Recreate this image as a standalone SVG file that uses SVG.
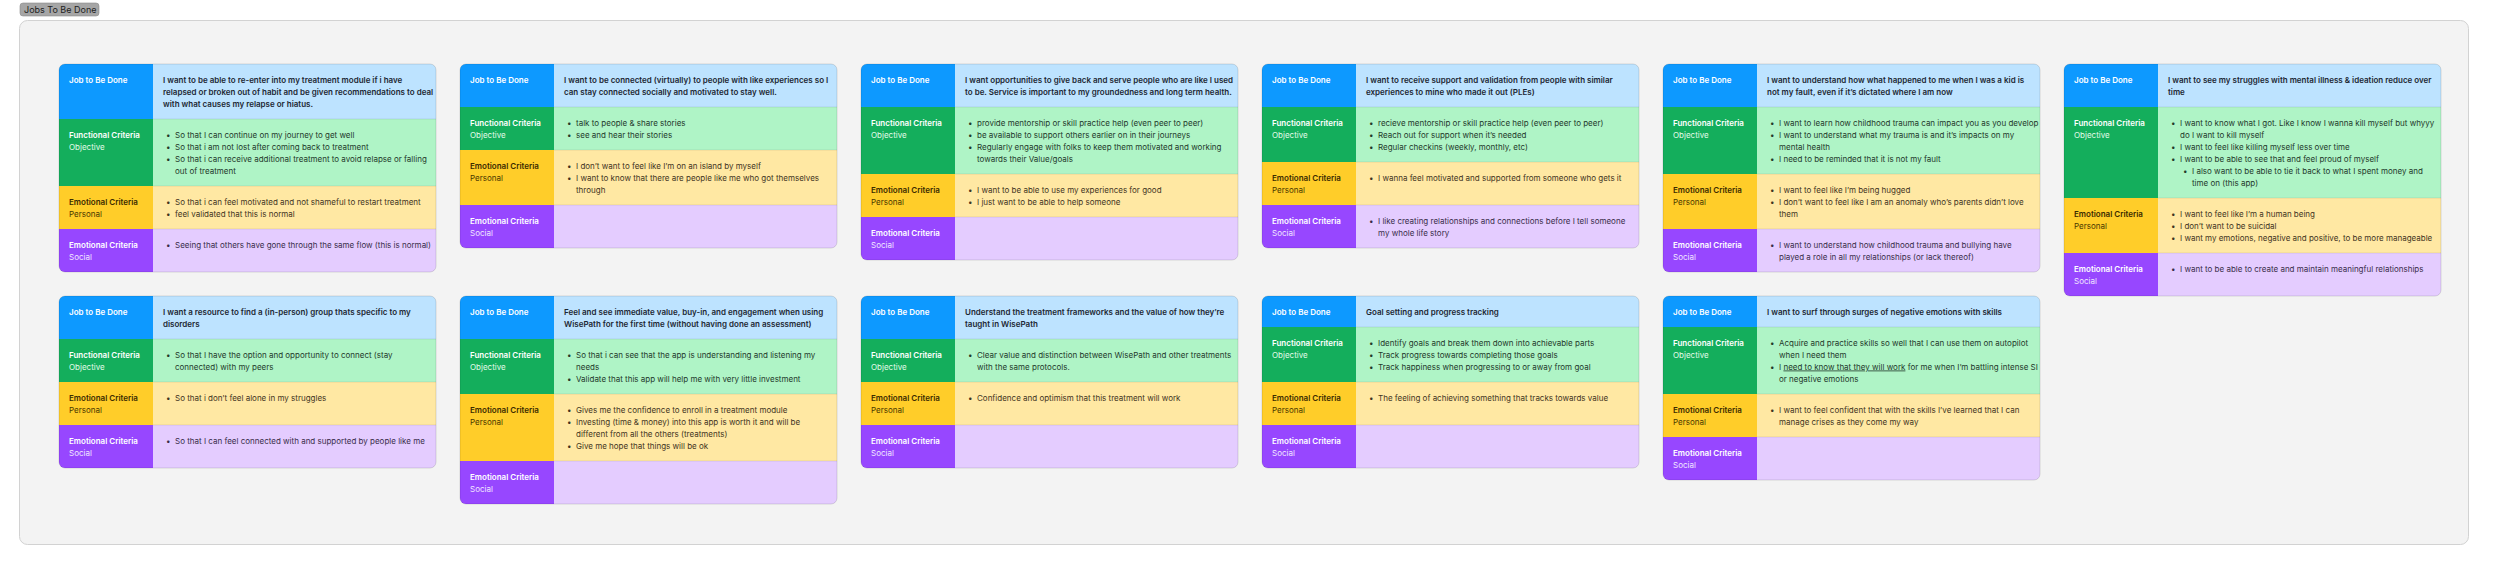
<svg xmlns="http://www.w3.org/2000/svg" width="2500" height="564" viewBox="0 0 2500 564">
<style>
text{font-family:Inter,"Noto Sans",sans-serif;font-size:8px}
.lw{font-weight:600;fill:#ffffff}
.lo{font-weight:400;fill:#e3fbe9}
.ly{font-weight:600;fill:#3b2b00}
.lyp{font-weight:400;fill:#4a3800}
.lps{font-weight:400;fill:#f1e6ff}
.jc{font-weight:600;fill:#1c2733}
.g{fill:#23392b}
.y{fill:#3f3422}
.p{fill:#392c4a}
.bL{fill:#0d99ff}.bC{fill:#bde3ff}
.gL{fill:#14ae5c}.gC{fill:#aff4c6}
.yL{fill:#ffcd29}.yC{fill:#ffe8a3}
.pL{fill:#9747ff}.pC{fill:#e4ccff}
.sep{stroke:#000;stroke-opacity:0.08;stroke-width:1;fill:none}
.out{fill:none;stroke:#000;stroke-opacity:0.12;stroke-width:1}
.u{text-decoration:underline}
</style>
<defs>
<clipPath id="c172"><rect width="377" height="172" rx="6"/></clipPath>
<clipPath id="c184"><rect width="377" height="184" rx="6"/></clipPath>
<clipPath id="c196"><rect width="377" height="196" rx="6"/></clipPath>
<clipPath id="c208"><rect width="377" height="208" rx="6"/></clipPath>
<clipPath id="c232"><rect width="377" height="232" rx="6"/></clipPath>
</defs>
<rect width="2500" height="564" fill="#ffffff"/>
<g id="section">
<rect x="19.5" y="20.5" width="2449" height="524" rx="8" fill="#f3f3f3" stroke="#d2d2d2"/>
<rect x="20" y="3" width="79" height="13" rx="3" fill="#a6a6a6" stroke="#8c8c8c" stroke-width="0.6"/>
<text x="24" y="13.3" style="font-size:9px;fill:#1e1e1e">Jobs To Be Done</text>
</g>
<g id="connectors"></g>

<!-- Card 1 -->
<g id="card1" transform="translate(59,64)">
<g clip-path="url(#c208)">
<rect class="bL" width="94" height="55"/><rect class="bC" x="94" width="283" height="55"/>
<rect class="gL" y="55" width="94" height="67"/><rect class="gC" x="94" y="55" width="283" height="67"/>
<rect class="yL" y="122" width="94" height="43"/><rect class="yC" x="94" y="122" width="283" height="43"/>
<rect class="pL" y="165" width="94" height="43"/><rect class="pC" x="94" y="165" width="283" height="43"/>
</g>
<path class="sep" d="M94 55H377M94 122H377M94 165H377"/>
<rect class="out" width="377" height="208" rx="6"/>
<text class="lw" x="10" y="18.5">Job to Be Done</text>
<text class="jc"><tspan x="104" y="18.5">I want to be able to re-enter into my treatment module if i have</tspan><tspan x="104" y="30.5">relapsed or broken out of habit and be given recommendations to deal</tspan><tspan x="104" y="42.5">with what causes my relapse or hiatus.</tspan></text>
<text><tspan class="lw" x="10" y="73.5">Functional Criteria</tspan><tspan class="lo" x="10" y="85.5">Objective</tspan></text>
<text class="g"><tspan x="107" y="73.5">•</tspan><tspan x="116">So that I can continue on my journey to get well</tspan><tspan x="107" y="85.5">•</tspan><tspan x="116">So that i am not lost after coming back to treatment</tspan><tspan x="107" y="97.5">•</tspan><tspan x="116">So that i can receive additional treatment to avoid relapse or falling</tspan><tspan x="116" y="109.5">out of treatment</tspan></text>
<text><tspan class="ly" x="10" y="140.5">Emotional Criteria</tspan><tspan class="lyp" x="10" y="152.5">Personal</tspan></text>
<text class="y"><tspan x="107" y="140.5">•</tspan><tspan x="116">So that i can feel motivated and not shameful to restart treatment</tspan><tspan x="107" y="152.5">•</tspan><tspan x="116">feel validated that this is normal</tspan></text>
<text><tspan class="lw" x="10" y="183.5">Emotional Criteria</tspan><tspan class="lps" x="10" y="195.5">Social</tspan></text>
<text class="p"><tspan x="107" y="183.5">•</tspan><tspan x="116">Seeing that others have gone through the same flow (this is normal)</tspan></text>
</g>

<!-- Card 2 -->
<g id="card2" transform="translate(460,64)">
<g clip-path="url(#c184)">
<rect class="bL" width="94" height="43"/><rect class="bC" x="94" width="283" height="43"/>
<rect class="gL" y="43" width="94" height="43"/><rect class="gC" x="94" y="43" width="283" height="43"/>
<rect class="yL" y="86" width="94" height="55"/><rect class="yC" x="94" y="86" width="283" height="55"/>
<rect class="pL" y="141" width="94" height="43"/><rect class="pC" x="94" y="141" width="283" height="43"/>
</g>
<path class="sep" d="M94 43H377M94 86H377M94 141H377"/>
<rect class="out" width="377" height="184" rx="6"/>
<text class="lw" x="10" y="18.5">Job to Be Done</text>
<text class="jc"><tspan x="104" y="18.5">I want to be connected (virtually) to people with like experiences so I</tspan><tspan x="104" y="30.5">can stay connected socially and motivated to stay well.</tspan></text>
<text><tspan class="lw" x="10" y="61.5">Functional Criteria</tspan><tspan class="lo" x="10" y="73.5">Objective</tspan></text>
<text class="g"><tspan x="107" y="61.5">•</tspan><tspan x="116">talk to people &amp; share stories</tspan><tspan x="107" y="73.5">•</tspan><tspan x="116">see and hear their stories</tspan></text>
<text><tspan class="ly" x="10" y="104.5">Emotional Criteria</tspan><tspan class="lyp" x="10" y="116.5">Personal</tspan></text>
<text class="y"><tspan x="107" y="104.5">•</tspan><tspan x="116">I don’t want to feel like I’m on an island by myself</tspan><tspan x="107" y="116.5">•</tspan><tspan x="116">I want to know that there are people like me who got themselves</tspan><tspan x="116" y="128.5">through</tspan></text>
<text><tspan class="lw" x="10" y="159.5">Emotional Criteria</tspan><tspan class="lps" x="10" y="171.5">Social</tspan></text>
</g>

<!-- Card 3 -->
<g id="card3" transform="translate(861,64)">
<g clip-path="url(#c196)">
<rect class="bL" width="94" height="43"/><rect class="bC" x="94" width="283" height="43"/>
<rect class="gL" y="43" width="94" height="67"/><rect class="gC" x="94" y="43" width="283" height="67"/>
<rect class="yL" y="110" width="94" height="43"/><rect class="yC" x="94" y="110" width="283" height="43"/>
<rect class="pL" y="153" width="94" height="43"/><rect class="pC" x="94" y="153" width="283" height="43"/>
</g>
<path class="sep" d="M94 43H377M94 110H377M94 153H377"/>
<rect class="out" width="377" height="196" rx="6"/>
<text class="lw" x="10" y="18.5">Job to Be Done</text>
<text class="jc"><tspan x="104" y="18.5">I want opportunities to give back and serve people who are like I used</tspan><tspan x="104" y="30.5">to be. Service is important to my groundedness and long term health.</tspan></text>
<text><tspan class="lw" x="10" y="61.5">Functional Criteria</tspan><tspan class="lo" x="10" y="73.5">Objective</tspan></text>
<text class="g"><tspan x="107" y="61.5">•</tspan><tspan x="116">provide mentorship or skill practice help (even peer to peer)</tspan><tspan x="107" y="73.5">•</tspan><tspan x="116">be available to support others earlier on in their journeys</tspan><tspan x="107" y="85.5">•</tspan><tspan x="116">Regularly engage with folks to keep them motivated and working</tspan><tspan x="116" y="97.5">towards their Value/goals</tspan></text>
<text><tspan class="ly" x="10" y="128.5">Emotional Criteria</tspan><tspan class="lyp" x="10" y="140.5">Personal</tspan></text>
<text class="y"><tspan x="107" y="128.5">•</tspan><tspan x="116">I want to be able to use my experiences for good</tspan><tspan x="107" y="140.5">•</tspan><tspan x="116">I just want to be able to help someone</tspan></text>
<text><tspan class="lw" x="10" y="171.5">Emotional Criteria</tspan><tspan class="lps" x="10" y="183.5">Social</tspan></text>
</g>

<!-- Card 4 -->
<g id="card4" transform="translate(1262,64)">
<g clip-path="url(#c184)">
<rect class="bL" width="94" height="43"/><rect class="bC" x="94" width="283" height="43"/>
<rect class="gL" y="43" width="94" height="55"/><rect class="gC" x="94" y="43" width="283" height="55"/>
<rect class="yL" y="98" width="94" height="43"/><rect class="yC" x="94" y="98" width="283" height="43"/>
<rect class="pL" y="141" width="94" height="43"/><rect class="pC" x="94" y="141" width="283" height="43"/>
</g>
<path class="sep" d="M94 43H377M94 98H377M94 141H377"/>
<rect class="out" width="377" height="184" rx="6"/>
<text class="lw" x="10" y="18.5">Job to Be Done</text>
<text class="jc"><tspan x="104" y="18.5">I want to receive support and validation from people with similar</tspan><tspan x="104" y="30.5">experiences to mine who made it out (PLEs)</tspan></text>
<text><tspan class="lw" x="10" y="61.5">Functional Criteria</tspan><tspan class="lo" x="10" y="73.5">Objective</tspan></text>
<text class="g"><tspan x="107" y="61.5">•</tspan><tspan x="116">recieve mentorship or skill practice help (even peer to peer)</tspan><tspan x="107" y="73.5">•</tspan><tspan x="116">Reach out for support when it’s needed</tspan><tspan x="107" y="85.5">•</tspan><tspan x="116">Regular checkins (weekly, monthly, etc)</tspan></text>
<text><tspan class="ly" x="10" y="116.5">Emotional Criteria</tspan><tspan class="lyp" x="10" y="128.5">Personal</tspan></text>
<text class="y"><tspan x="107" y="116.5">•</tspan><tspan x="116">I wanna feel motivated and supported from someone who gets it</tspan></text>
<text><tspan class="lw" x="10" y="159.5">Emotional Criteria</tspan><tspan class="lps" x="10" y="171.5">Social</tspan></text>
<text class="p"><tspan x="107" y="159.5">•</tspan><tspan x="116">I like creating relationships and connections before I tell someone</tspan><tspan x="116" y="171.5">my whole life story</tspan></text>
</g>

<!-- Card 5 -->
<g id="card5" transform="translate(1663,64)">
<g clip-path="url(#c208)">
<rect class="bL" width="94" height="43"/><rect class="bC" x="94" width="283" height="43"/>
<rect class="gL" y="43" width="94" height="67"/><rect class="gC" x="94" y="43" width="283" height="67"/>
<rect class="yL" y="110" width="94" height="55"/><rect class="yC" x="94" y="110" width="283" height="55"/>
<rect class="pL" y="165" width="94" height="43"/><rect class="pC" x="94" y="165" width="283" height="43"/>
</g>
<path class="sep" d="M94 43H377M94 110H377M94 165H377"/>
<rect class="out" width="377" height="208" rx="6"/>
<text class="lw" x="10" y="18.5">Job to Be Done</text>
<text class="jc"><tspan x="104" y="18.5">I want to understand how what happened to me when I was a kid is</tspan><tspan x="104" y="30.5">not my fault, even if it’s dictated where I am now</tspan></text>
<text><tspan class="lw" x="10" y="61.5">Functional Criteria</tspan><tspan class="lo" x="10" y="73.5">Objective</tspan></text>
<text class="g"><tspan x="107" y="61.5">•</tspan><tspan x="116">I want to learn how childhood trauma can impact you as you develop</tspan><tspan x="107" y="73.5">•</tspan><tspan x="116">I want to understand what my trauma is and it’s impacts on my</tspan><tspan x="116" y="85.5">mental health</tspan><tspan x="107" y="97.5">•</tspan><tspan x="116">I need to be reminded that it is not my fault</tspan></text>
<text><tspan class="ly" x="10" y="128.5">Emotional Criteria</tspan><tspan class="lyp" x="10" y="140.5">Personal</tspan></text>
<text class="y"><tspan x="107" y="128.5">•</tspan><tspan x="116">I want to feel like I’m being hugged</tspan><tspan x="107" y="140.5">•</tspan><tspan x="116">I don’t want to feel like I am an anomaly who’s parents didn’t love</tspan><tspan x="116" y="152.5">them</tspan></text>
<text><tspan class="lw" x="10" y="183.5">Emotional Criteria</tspan><tspan class="lps" x="10" y="195.5">Social</tspan></text>
<text class="p"><tspan x="107" y="183.5">•</tspan><tspan x="116">I want to understand how childhood trauma and bullying have</tspan><tspan x="116" y="195.5">played a role in all my relationships (or lack thereof)</tspan></text>
</g>

<!-- Card 6 -->
<g id="card6" transform="translate(2064,64)">
<g clip-path="url(#c232)">
<rect class="bL" width="94" height="43"/><rect class="bC" x="94" width="283" height="43"/>
<rect class="gL" y="43" width="94" height="91"/><rect class="gC" x="94" y="43" width="283" height="91"/>
<rect class="yL" y="134" width="94" height="55"/><rect class="yC" x="94" y="134" width="283" height="55"/>
<rect class="pL" y="189" width="94" height="43"/><rect class="pC" x="94" y="189" width="283" height="43"/>
</g>
<path class="sep" d="M94 43H377M94 134H377M94 189H377"/>
<rect class="out" width="377" height="232" rx="6"/>
<text class="lw" x="10" y="18.5">Job to Be Done</text>
<text class="jc"><tspan x="104" y="18.5">I want to see my struggles with mental illness &amp; ideation reduce over</tspan><tspan x="104" y="30.5">time</tspan></text>
<text><tspan class="lw" x="10" y="61.5">Functional Criteria</tspan><tspan class="lo" x="10" y="73.5">Objective</tspan></text>
<text class="g"><tspan x="107" y="61.5">•</tspan><tspan x="116">I want to know what I got. Like I know I wanna kill myself but whyyy</tspan><tspan x="116" y="73.5">do I want to kill myself</tspan><tspan x="107" y="85.5">•</tspan><tspan x="116">I want to feel like killing myself less over time</tspan><tspan x="107" y="97.5">•</tspan><tspan x="116">I want to be able to see that and feel proud of myself</tspan><tspan x="119" y="109.5">•</tspan><tspan x="128">I also want to be able to tie it back to what I spent money and</tspan><tspan x="128" y="121.5">time on (this app)</tspan></text>
<text><tspan class="ly" x="10" y="152.5">Emotional Criteria</tspan><tspan class="lyp" x="10" y="164.5">Personal</tspan></text>
<text class="y"><tspan x="107" y="152.5">•</tspan><tspan x="116">I want to feel like I’m a human being</tspan><tspan x="107" y="164.5">•</tspan><tspan x="116">I don’t want to be suicidal</tspan><tspan x="107" y="176.5">•</tspan><tspan x="116">I want my emotions, negative and positive, to be more manageable</tspan></text>
<text><tspan class="lw" x="10" y="207.5">Emotional Criteria</tspan><tspan class="lps" x="10" y="219.5">Social</tspan></text>
<text class="p"><tspan x="107" y="207.5">•</tspan><tspan x="116">I want to be able to create and maintain meaningful relationships</tspan></text>
</g>

<!-- Card 7 -->
<g id="card7" transform="translate(59,296)">
<g clip-path="url(#c172)">
<rect class="bL" width="94" height="43"/><rect class="bC" x="94" width="283" height="43"/>
<rect class="gL" y="43" width="94" height="43"/><rect class="gC" x="94" y="43" width="283" height="43"/>
<rect class="yL" y="86" width="94" height="43"/><rect class="yC" x="94" y="86" width="283" height="43"/>
<rect class="pL" y="129" width="94" height="43"/><rect class="pC" x="94" y="129" width="283" height="43"/>
</g>
<path class="sep" d="M94 43H377M94 86H377M94 129H377"/>
<rect class="out" width="377" height="172" rx="6"/>
<text class="lw" x="10" y="18.5">Job to Be Done</text>
<text class="jc"><tspan x="104" y="18.5">I want a resource to find a (in-person) group thats specific to my</tspan><tspan x="104" y="30.5">disorders</tspan></text>
<text><tspan class="lw" x="10" y="61.5">Functional Criteria</tspan><tspan class="lo" x="10" y="73.5">Objective</tspan></text>
<text class="g"><tspan x="107" y="61.5">•</tspan><tspan x="116">So that I have the option and opportunity to connect (stay</tspan><tspan x="116" y="73.5">connected) with my peers</tspan></text>
<text><tspan class="ly" x="10" y="104.5">Emotional Criteria</tspan><tspan class="lyp" x="10" y="116.5">Personal</tspan></text>
<text class="y"><tspan x="107" y="104.5">•</tspan><tspan x="116">So that i don’t feel alone in my struggles</tspan></text>
<text><tspan class="lw" x="10" y="147.5">Emotional Criteria</tspan><tspan class="lps" x="10" y="159.5">Social</tspan></text>
<text class="p"><tspan x="107" y="147.5">•</tspan><tspan x="116">So that I can feel connected with and supported by people like me</tspan></text>
</g>

<!-- Card 8 -->
<g id="card8" transform="translate(460,296)">
<g clip-path="url(#c208)">
<rect class="bL" width="94" height="43"/><rect class="bC" x="94" width="283" height="43"/>
<rect class="gL" y="43" width="94" height="55"/><rect class="gC" x="94" y="43" width="283" height="55"/>
<rect class="yL" y="98" width="94" height="67"/><rect class="yC" x="94" y="98" width="283" height="67"/>
<rect class="pL" y="165" width="94" height="43"/><rect class="pC" x="94" y="165" width="283" height="43"/>
</g>
<path class="sep" d="M94 43H377M94 98H377M94 165H377"/>
<rect class="out" width="377" height="208" rx="6"/>
<text class="lw" x="10" y="18.5">Job to Be Done</text>
<text class="jc"><tspan x="104" y="18.5">Feel and see immediate value, buy-in, and engagement when using</tspan><tspan x="104" y="30.5">WisePath for the first time (without having done an assessment)</tspan></text>
<text><tspan class="lw" x="10" y="61.5">Functional Criteria</tspan><tspan class="lo" x="10" y="73.5">Objective</tspan></text>
<text class="g"><tspan x="107" y="61.5">•</tspan><tspan x="116">So that i can see that the app is understanding and listening my</tspan><tspan x="116" y="73.5">needs</tspan><tspan x="107" y="85.5">•</tspan><tspan x="116">Validate that this app will help me with very little investment</tspan></text>
<text><tspan class="ly" x="10" y="116.5">Emotional Criteria</tspan><tspan class="lyp" x="10" y="128.5">Personal</tspan></text>
<text class="y"><tspan x="107" y="116.5">•</tspan><tspan x="116">Gives me the confidence to enroll in a treatment module</tspan><tspan x="107" y="128.5">•</tspan><tspan x="116">Investing (time &amp; money) into this app is worth it and will be</tspan><tspan x="116" y="140.5">different from all the others (treatments)</tspan><tspan x="107" y="152.5">•</tspan><tspan x="116">Give me hope that things will be ok</tspan></text>
<text><tspan class="lw" x="10" y="183.5">Emotional Criteria</tspan><tspan class="lps" x="10" y="195.5">Social</tspan></text>
</g>

<!-- Card 9 -->
<g id="card9" transform="translate(861,296)">
<g clip-path="url(#c172)">
<rect class="bL" width="94" height="43"/><rect class="bC" x="94" width="283" height="43"/>
<rect class="gL" y="43" width="94" height="43"/><rect class="gC" x="94" y="43" width="283" height="43"/>
<rect class="yL" y="86" width="94" height="43"/><rect class="yC" x="94" y="86" width="283" height="43"/>
<rect class="pL" y="129" width="94" height="43"/><rect class="pC" x="94" y="129" width="283" height="43"/>
</g>
<path class="sep" d="M94 43H377M94 86H377M94 129H377"/>
<rect class="out" width="377" height="172" rx="6"/>
<text class="lw" x="10" y="18.5">Job to Be Done</text>
<text class="jc"><tspan x="104" y="18.5">Understand the treatment frameworks and the value of how they’re</tspan><tspan x="104" y="30.5">taught in WisePath</tspan></text>
<text><tspan class="lw" x="10" y="61.5">Functional Criteria</tspan><tspan class="lo" x="10" y="73.5">Objective</tspan></text>
<text class="g"><tspan x="107" y="61.5">•</tspan><tspan x="116">Clear value and distinction between WisePath and other treatments</tspan><tspan x="116" y="73.5">with the same protocols.</tspan></text>
<text><tspan class="ly" x="10" y="104.5">Emotional Criteria</tspan><tspan class="lyp" x="10" y="116.5">Personal</tspan></text>
<text class="y"><tspan x="107" y="104.5">•</tspan><tspan x="116">Confidence and optimism that this treatment will work</tspan></text>
<text><tspan class="lw" x="10" y="147.5">Emotional Criteria</tspan><tspan class="lps" x="10" y="159.5">Social</tspan></text>
</g>

<!-- Card 10 -->
<g id="card10" transform="translate(1262,296)">
<g clip-path="url(#c172)">
<rect class="bL" width="94" height="31"/><rect class="bC" x="94" width="283" height="31"/>
<rect class="gL" y="31" width="94" height="55"/><rect class="gC" x="94" y="31" width="283" height="55"/>
<rect class="yL" y="86" width="94" height="43"/><rect class="yC" x="94" y="86" width="283" height="43"/>
<rect class="pL" y="129" width="94" height="43"/><rect class="pC" x="94" y="129" width="283" height="43"/>
</g>
<path class="sep" d="M94 31H377M94 86H377M94 129H377"/>
<rect class="out" width="377" height="172" rx="6"/>
<text class="lw" x="10" y="18.5">Job to Be Done</text>
<text class="jc" x="104" y="18.5">Goal setting and progress tracking</text>
<text><tspan class="lw" x="10" y="49.5">Functional Criteria</tspan><tspan class="lo" x="10" y="61.5">Objective</tspan></text>
<text class="g"><tspan x="107" y="49.5">•</tspan><tspan x="116">Identify goals and break them down into achievable parts</tspan><tspan x="107" y="61.5">•</tspan><tspan x="116">Track progress towards completing those goals</tspan><tspan x="107" y="73.5">•</tspan><tspan x="116">Track happiness when progressing to or away from goal</tspan></text>
<text><tspan class="ly" x="10" y="104.5">Emotional Criteria</tspan><tspan class="lyp" x="10" y="116.5">Personal</tspan></text>
<text class="y"><tspan x="107" y="104.5">•</tspan><tspan x="116">The feeling of achieving something that tracks towards value</tspan></text>
<text><tspan class="lw" x="10" y="147.5">Emotional Criteria</tspan><tspan class="lps" x="10" y="159.5">Social</tspan></text>
</g>

<!-- Card 11 -->
<g id="card11" transform="translate(1663,296)">
<g clip-path="url(#c184)">
<rect class="bL" width="94" height="31"/><rect class="bC" x="94" width="283" height="31"/>
<rect class="gL" y="31" width="94" height="67"/><rect class="gC" x="94" y="31" width="283" height="67"/>
<rect class="yL" y="98" width="94" height="43"/><rect class="yC" x="94" y="98" width="283" height="43"/>
<rect class="pL" y="141" width="94" height="43"/><rect class="pC" x="94" y="141" width="283" height="43"/>
</g>
<path class="sep" d="M94 31H377M94 98H377M94 141H377"/>
<rect class="out" width="377" height="184" rx="6"/>
<text class="lw" x="10" y="18.5">Job to Be Done</text>
<text class="jc" x="104" y="18.5">I want to surf through surges of negative emotions with skills</text>
<text><tspan class="lw" x="10" y="49.5">Functional Criteria</tspan><tspan class="lo" x="10" y="61.5">Objective</tspan></text>
<text class="g"><tspan x="107" y="49.5">•</tspan><tspan x="116">Acquire and practice skills so well that I can use them on autopilot</tspan><tspan x="116" y="61.5">when I need them</tspan><tspan x="107" y="73.5">•</tspan><tspan x="116">I </tspan><tspan class="u">need to know that they will work</tspan><tspan> for me when I’m battling intense SI</tspan><tspan x="116" y="85.5">or negative emotions</tspan></text>
<text><tspan class="ly" x="10" y="116.5">Emotional Criteria</tspan><tspan class="lyp" x="10" y="128.5">Personal</tspan></text>
<text class="y"><tspan x="107" y="116.5">•</tspan><tspan x="116">I want to feel confident that with the skills I’ve learned that I can</tspan><tspan x="116" y="128.5">manage crises as they come my way</tspan></text>
<text><tspan class="lw" x="10" y="159.5">Emotional Criteria</tspan><tspan class="lps" x="10" y="171.5">Social</tspan></text>
</g>
</svg>
